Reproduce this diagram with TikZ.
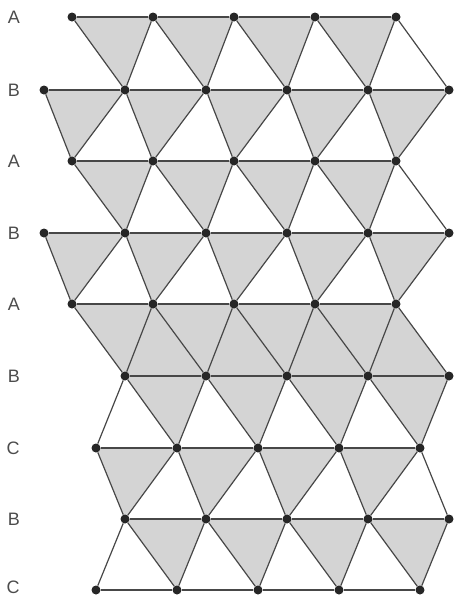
\documentclass[tikz,border=0pt]{standalone}
\usepackage{fontspec}
\setmainfont{Liberation Sans}
\usetikzlibrary{backgrounds}

\begin{document}
\begin{tikzpicture}[
        x=1pt, y=-1pt,
        dot/.style={circle, fill=black!85, inner sep=0pt, minimum size=9pt},
        layer/.style={text=black!70, inner sep=0pt, font=\fontsize{18}{18}\selectfont},
        bond/.style={draw=black!72, line width=1.2pt},
        face/.style={fill=black!17}
    ]

    \useasboundingbox (0,0) rectangle (456,598);

    % layer letters
    \node[layer] (L1) at (14,17) {A};
    \node[layer] (L2) at (14,90) {B};
    \node[layer] (L3) at (14,161) {A};
    \node[layer] (L4) at (14,233) {B};
    \node[layer] (L5) at (14,304) {A};
    \node[layer] (L6) at (14,376) {B};
    \node[layer] (L7) at (13,448) {C};
    \node[layer] (L8) at (14,519) {B};
    \node[layer] (L9) at (13,587) {C};

    % atoms, row by row
    \foreach \r/\y/\x/\n in {1/17/72/4, 2/90/44/5, 3/161/72/4, 4/233/44/5, 5/304/72/4,
                             6/376/125/4, 7/448/96/4, 8/519/125/4, 9/590/96/4}
        \foreach \k in {0,...,\n}
            \node[dot] (r\r-\k) at (\x+81*\k,\y) {};

    % rows
    \foreach \r/\n in {1/3, 2/4, 3/3, 4/4, 5/3, 6/3, 7/3, 8/3, 9/3}
        \foreach \k in {0,...,\n} {
            \pgfmathtruncatemacro{\j}{\k+1}
            \draw[bond] (r\r-\k) -- (r\r-\j);
        }

    % zigzags between rows
    \foreach \p/\q/\dk/\lo/\hi in {1/2/0/1/4, 1/2/1/0/4, 3/4/0/1/4, 3/4/1/0/4,
                                   2/3/0/0/4, 2/3/-1/1/5, 4/5/0/0/4, 4/5/-1/1/5,
                                   5/6/0/0/4, 5/6/-1/1/4,
                                   6/7/0/0/4, 6/7/1/0/3, 8/9/0/0/4, 8/9/1/0/3,
                                   7/8/0/0/4, 7/8/-1/1/4}
        \foreach \k in {\lo,...,\hi} {
            \pgfmathtruncatemacro{\j}{\k+\dk}
            \draw[bond] (r\p-\k) -- (r\q-\j);
        }

    % grey triangles
    \begin{pgfonlayer}{background}
        \foreach \p/\q/\hi in {1/2/3, 3/4/3, 6/7/3, 8/9/3}
            \foreach \k in {0,...,\hi} {
                \pgfmathtruncatemacro{\j}{\k+1}
                \fill[face] (r\p-\k.center) -- (r\p-\j.center) -- (r\q-\j.center) -- cycle;
            }
        \foreach \p/\q/\hi in {2/3/4, 4/5/4, 7/8/3}
            \foreach \k in {0,...,\hi} {
                \pgfmathtruncatemacro{\j}{\k+1}
                \fill[face] (r\p-\k.center) -- (r\p-\j.center) -- (r\q-\k.center) -- cycle;
            }
        \fill[face] (r5-0.center) -- (r5-4.center) -- (r6-4.center) -- (r6-0.center) -- cycle;
    \end{pgfonlayer}
\end{tikzpicture}
\end{document}
